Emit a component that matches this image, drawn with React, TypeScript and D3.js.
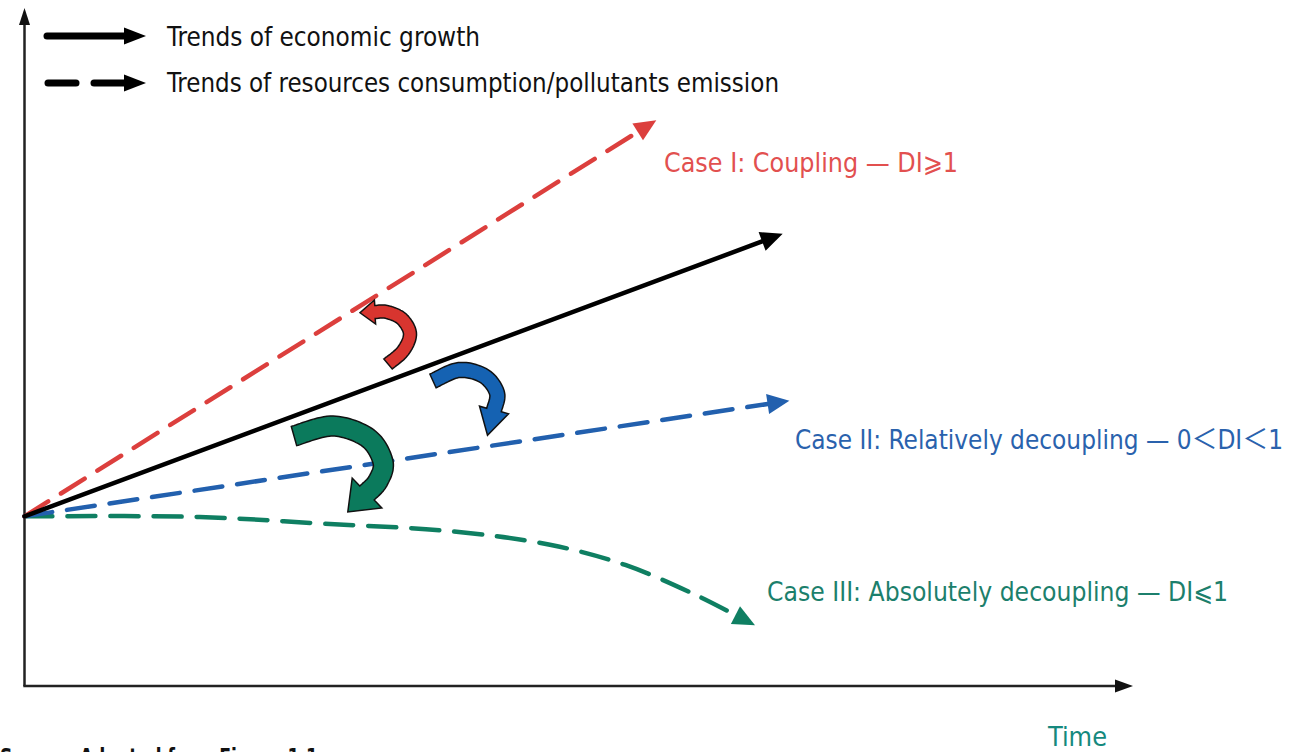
import React from "react";
import * as d3 from "d3";

// data (time 0..100, level 0..100)
const economicGrowth = [[0, 25.1], [68.4, 66.9]];
const coupling = [[0, 25.1], [57.0, 83.7]];
const relativeDecoupling = [[0, 25.1], [69.0, 42.2]];
const absoluteDecoupling = [
  [0, 25.1], [15.8, 25.0], [27.1, 24.0], [38.4, 22.9],
  [47.4, 20.9], [54.2, 17.9], [60.9, 13.2], [65.9, 9.0],
];
const legendLabels = [
  "Trends of economic growth",
  "Trends of resources consumption/pollutants emission",
];
const caseLabels = [
  "Case I: Coupling — DI⩾1",
  "Case II: Relatively decoupling — 0＜DI＜1",
  "Case III: Absolutely decoupling — DI⩽1",
];
const axisLabel = "Time";
const sourceNote = "Source: Adapted from Figure 1.1";

const W = 1289;
const H = 752;
// CJK font last so the full-width "＜" gets a proper glyph
const FONT = "'Liberation Sans Narrow', 'Arial Narrow', 'DejaVu Sans Condensed', 'DejaVu Sans', 'Noto Sans CJK SC', sans-serif";

const RED = "#dc3f3d";
const BLUE = "#2260ae";
const GREEN = "#0f7f62";

type P = [number, number];

// arrowhead triangle pointing along dir, tip at `tip`
function headPoints(tip: P, dir: P, len: number, hw: number): P[] {
  const n: P = [-dir[1], dir[0]];
  const b: P = [tip[0] - dir[0] * len, tip[1] - dir[1] * len];
  return [
    [b[0] + n[0] * hw, b[1] + n[1] * hw],
    tip,
    [b[0] - n[0] * hw, b[1] - n[1] * hw],
  ];
}

function unit(a: P, b: P): P {
  const dx = b[0] - a[0];
  const dy = b[1] - a[1];
  const l = Math.hypot(dx, dy) || 1;
  return [dx / l, dy / l];
}

const pts = (ps: P[]) => ps.map((p) => p[0].toFixed(1) + "," + p[1].toFixed(1)).join(" ");

// sample a uniform catmull-rom through the points
function catmull(ps: P[], steps = 16): P[] {
  const out: P[] = [];
  for (let i = 0; i < ps.length - 1; i++) {
    const p0 = ps[Math.max(0, i - 1)];
    const p1 = ps[i];
    const p2 = ps[i + 1];
    const p3 = ps[Math.min(ps.length - 1, i + 2)];
    for (let s = 0; s < steps; s++) {
      const t = s / steps;
      const t2 = t * t;
      const t3 = t2 * t;
      const f = (k: number) =>
        0.5 * (2 * p1[k] + (-p0[k] + p2[k]) * t + (2 * p0[k] - 5 * p1[k] + 4 * p2[k] - p3[k]) * t2 +
          (-p0[k] + 3 * p1[k] - 3 * p2[k] + p3[k]) * t3);
      out.push([f(0), f(1)]);
    }
  }
  out.push(ps[ps.length - 1]);
  return out;
}

// thick curved block arrow, outlined
function blockArrow(center: P[], width: number, headLen: number, headHw: number): string {
  const s = catmull(center);
  const left: P[] = [];
  const right: P[] = [];
  s.forEach((p, i) => {
    const d = unit(s[Math.max(0, i - 1)], s[Math.min(s.length - 1, i + 1)]);
    const n: P = [-d[1], d[0]];
    left.push([p[0] + n[0] * width / 2, p[1] + n[1] * width / 2]);
    right.push([p[0] - n[0] * width / 2, p[1] - n[1] * width / 2]);
  });
  const end = s[s.length - 1];
  const d = unit(s[s.length - 3], end);
  const tip: P = [end[0] + d[0] * headLen, end[1] + d[1] * headLen];
  const h = headPoints(tip, d, headLen, headHw);
  const poly = [...left, h[0], h[1], h[2], ...right.reverse()];
  return "M" + poly.map((p) => p[0].toFixed(1) + "," + p[1].toFixed(1)).join("L") + "Z";
}

const App = () => {
  const x = d3.scaleLinear().domain([0, 100]).range([24.5, 1133]);
  const y = d3.scaleLinear().domain([0, 100]).range([686, 10]);

  const trend = (data: number[][], color: string, dashed: boolean, curved: boolean, headLen: number) => {
    const px: P[] = data.map((d) => [x(d[0]), y(d[1])]);
    const tip = px[px.length - 1];
    const dir = unit(px[px.length - 2], tip);
    const base: P = [tip[0] - dir[0] * headLen, tip[1] - dir[1] * headLen];
    const line = d3.line<P>().curve(curved ? d3.curveCatmullRom : d3.curveLinear);
    return (
      <g>
        <path d={line([...px.slice(0, -1), base]) || ""} fill="none" stroke={color} strokeWidth={4.5}
          strokeDasharray={dashed ? "28 15" : undefined} strokeLinecap="round" />
        <polygon points={pts(headPoints(tip, dir, headLen, 10))} fill={color} />
      </g>
    );
  };

  const textStyle = { fontFamily: FONT, fontSize: 27 };

  return (
    <svg width={W} height={H} style={{ position: "absolute", left: 0, top: 0, background: "#fff" }}>
      <rect width={W} height={H} fill="#fff" />

      {/* axes */}
      <line x1={x(0)} y1={y(0)} x2={x(0)} y2={y(100) + 14} stroke="#222" strokeWidth={2.5} />
      <polygon points={pts(headPoints([x(0), y(100) - 2], [0, -1], 17, 5.5))} fill="#111" />
      <line x1={x(0) - 1.2} y1={y(0)} x2={x(100) - 16} y2={y(0)} stroke="#222" strokeWidth={2.5} />
      <polygon points={pts(headPoints([x(100), y(0)], [1, 0], 18, 6.5))} fill="#111" />

      {/* legend */}
      <line x1={47} y1={36} x2={125} y2={36} stroke="#000" strokeWidth={7} strokeLinecap="round" />
      <polygon points={pts(headPoints([146, 36], [1, 0], 22, 8.5))} fill="#000" />
      <text x={167} y={46} textLength={313} lengthAdjust="spacingAndGlyphs" style={textStyle} fill="#111">
        {legendLabels[0]}
      </text>
      <line x1={48} y1={83} x2={76} y2={83} stroke="#000" strokeWidth={7} strokeLinecap="round" />
      <line x1={94} y1={83} x2={125} y2={83} stroke="#000" strokeWidth={7} strokeLinecap="round" />
      <polygon points={pts(headPoints([146, 83], [1, 0], 22, 8.5))} fill="#000" />
      <text x={167} y={92} textLength={612} lengthAdjust="spacingAndGlyphs" style={textStyle} fill="#111">
        {legendLabels[1]}
      </text>

      {/* trends */}
      {trend(absoluteDecoupling, GREEN, true, true, 22)}
      {trend(relativeDecoupling, BLUE, true, false, 22)}
      {trend(coupling, RED, true, false, 22)}
      {trend(economicGrowth, "#000", false, false, 22)}

      {/* shift arrows */}
      <path d={blockArrow([[388, 364], [403, 351], [410, 334], [402, 319], [387, 312], [375, 312]], 13, 15, 12)}
        fill="#d8352f" stroke="#111" strokeWidth={1.5} strokeLinejoin="miter" />
      <path d={blockArrow([[433, 381], [459, 370], [484, 376], [497, 393], [494, 410]], 15, 26, 15)}
        fill="#1562b2" stroke="#111" strokeWidth={1.5} strokeLinejoin="miter" />
      <path d={blockArrow([[294, 436], [333, 426], [368, 438], [383, 462], [378, 481], [367, 493]], 20, 27, 21)}
        fill="#0b7a5c" stroke="#111" strokeWidth={1.5} strokeLinejoin="miter" />

      {/* case labels */}
      <text x={664} y={172} textLength={294} lengthAdjust="spacingAndGlyphs" style={textStyle} fill="#e2504f">
        {caseLabels[0]}
      </text>
      <text x={795} y={449} textLength={488} lengthAdjust="spacingAndGlyphs" style={textStyle} fill="#2a62ad">
        {caseLabels[1]}
      </text>
      <text x={767} y={601} textLength={461} lengthAdjust="spacingAndGlyphs" style={textStyle} fill="#1c7f6c">
        {caseLabels[2]}
      </text>

      <text x={1048} y={746} textLength={59} lengthAdjust="spacingAndGlyphs" style={textStyle} fill="#15897e">
        {axisLabel}
      </text>
      <text x={0} y={765} textLength={318} lengthAdjust="spacingAndGlyphs"
        style={{ fontFamily: FONT, fontSize: 23, fontWeight: 700 }} fill="#111">
        {sourceNote}
      </text>
    </svg>
  );
};

export default App;
